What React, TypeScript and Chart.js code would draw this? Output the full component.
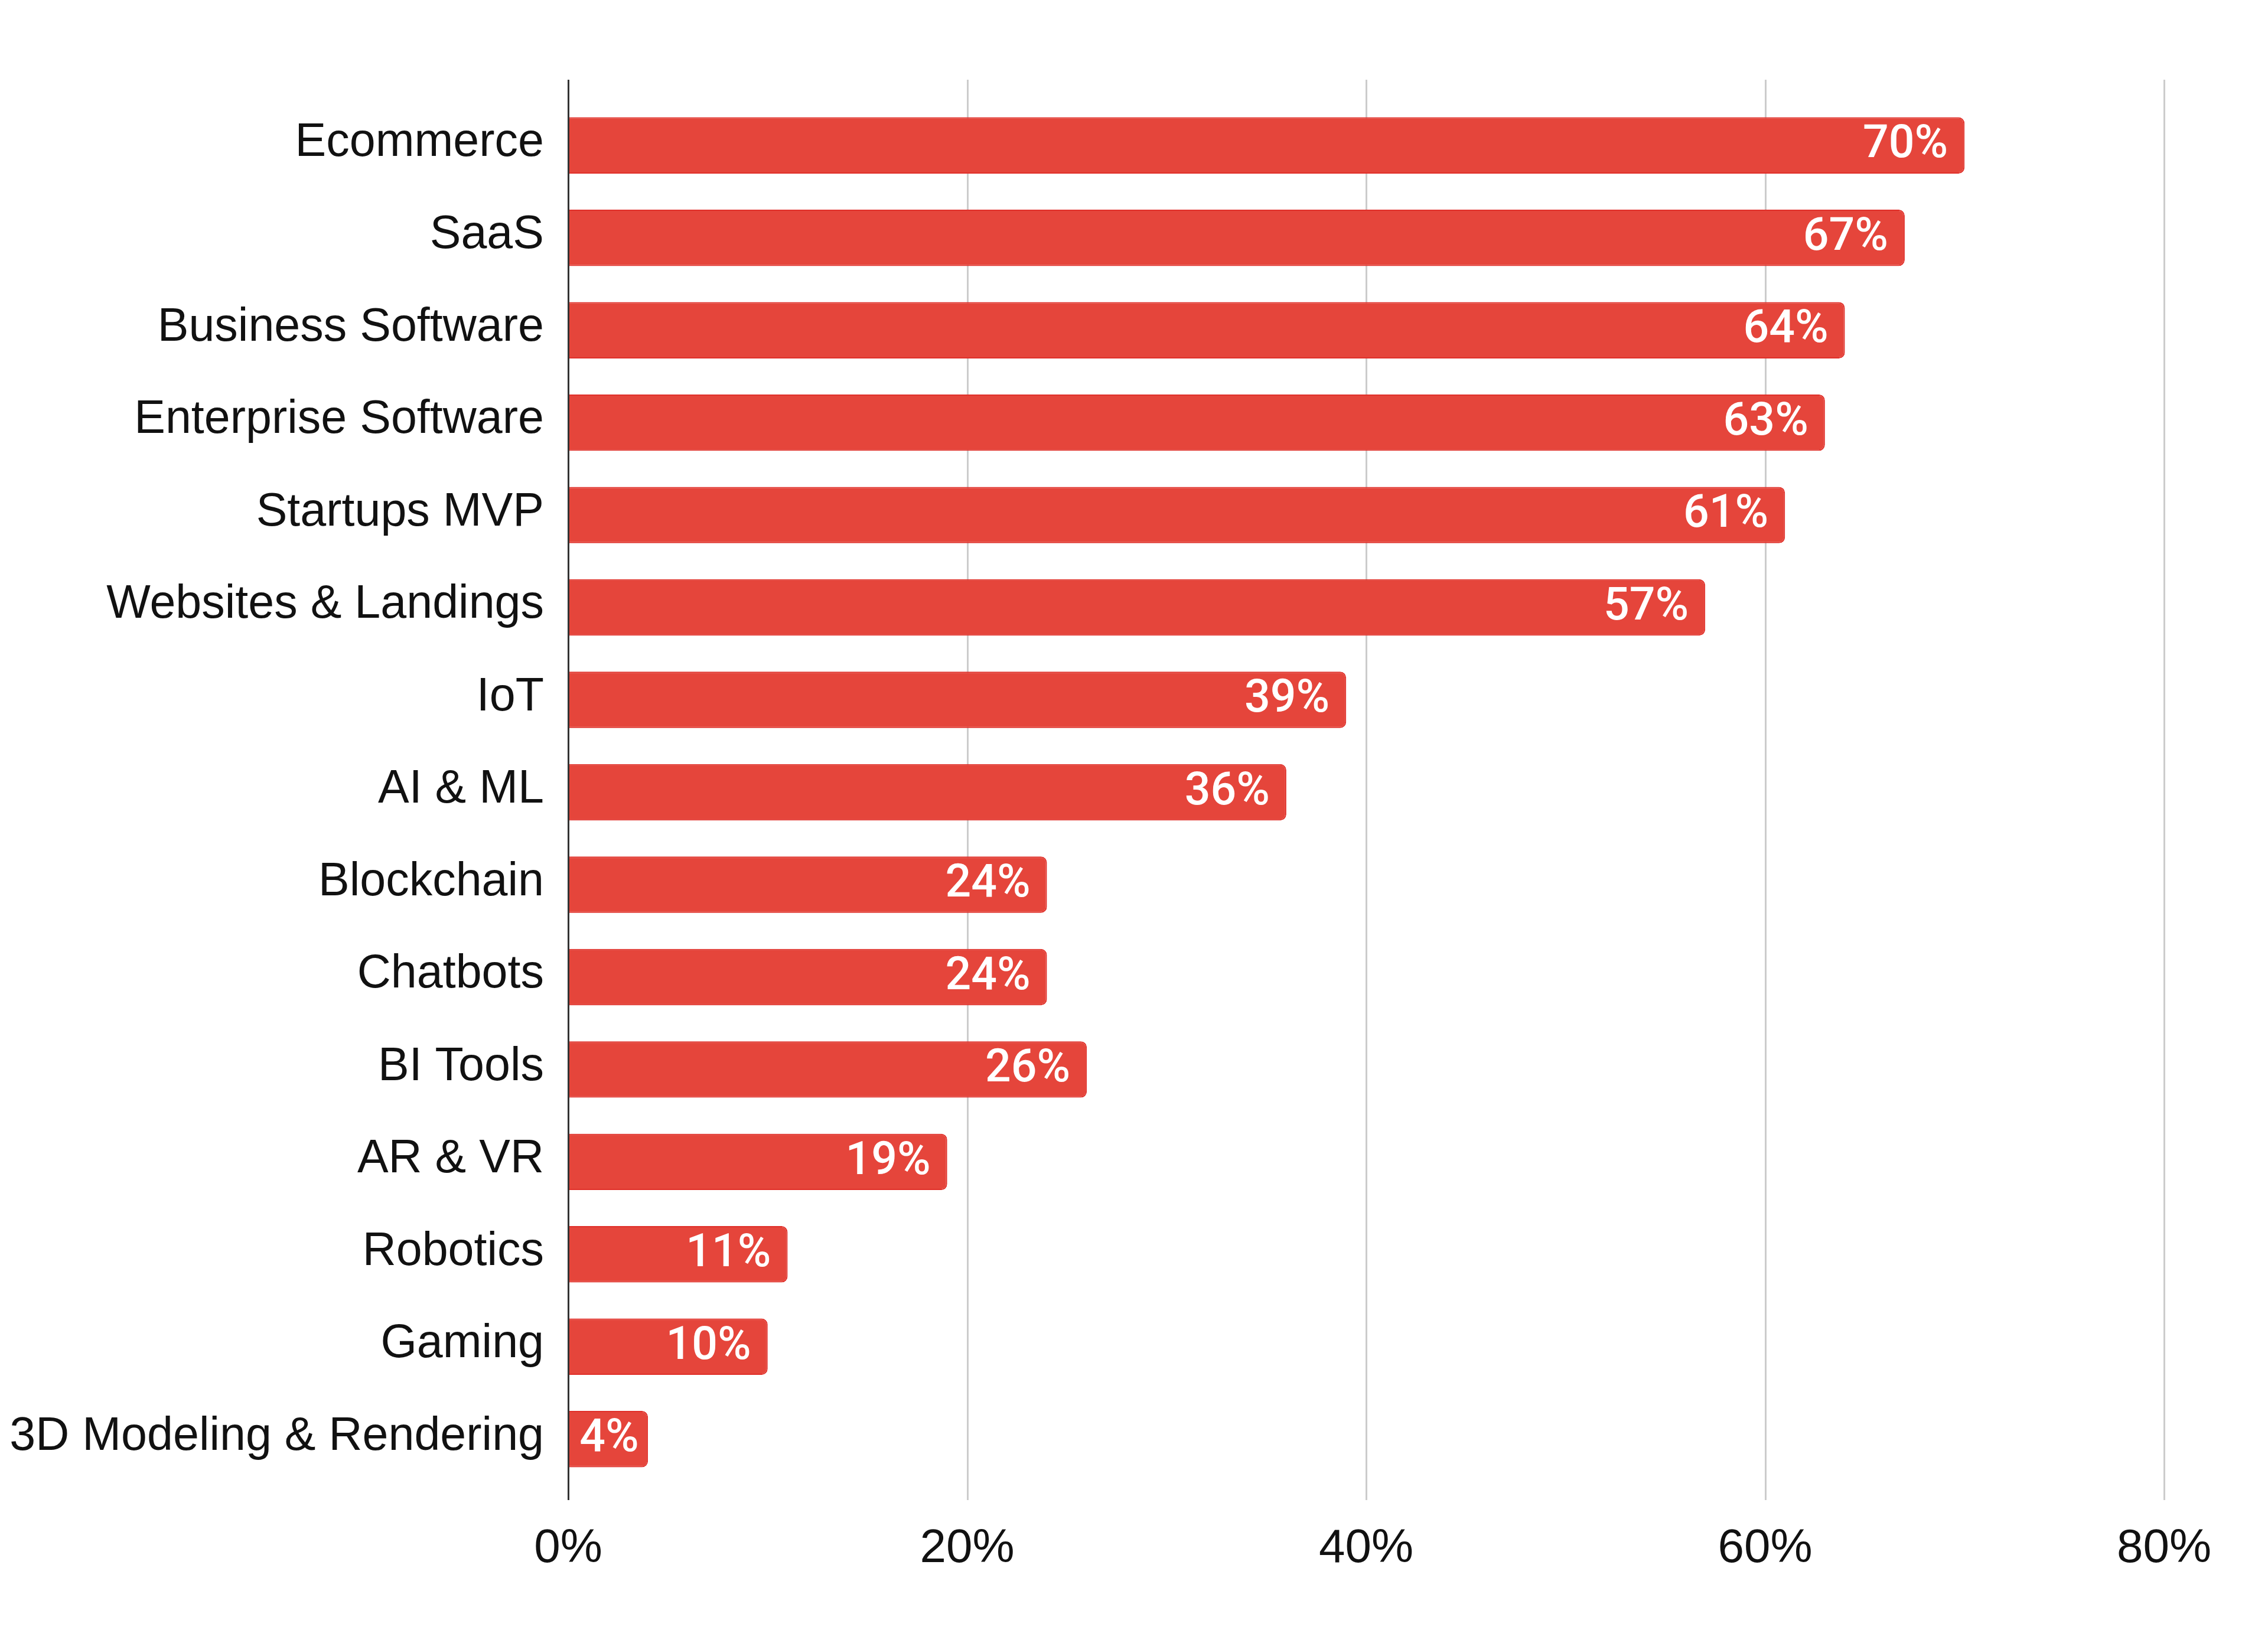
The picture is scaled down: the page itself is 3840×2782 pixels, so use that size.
import React, { useEffect, useRef } from "react";
import { Chart, registerables } from "chart.js";

Chart.register(...registerables);

const categories = [
  "Ecommerce",
  "SaaS",
  "Business Software",
  "Enterprise Software",
  "Startups MVP",
  "Websites & Landings",
  "IoT",
  "AI & ML",
  "Blockchain",
  "Chatbots",
  "BI Tools",
  "AR & VR",
  "Robotics",
  "Gaming",
  "3D Modeling & Rendering",
];

const values = [70, 67, 64, 63, 61, 57, 39, 36, 24, 24, 26, 19, 11, 10, 4];

const axisMin = 0;
const axisMax = 80;
const axisStep = 20;

const BAR_COLOR = "#E5453B";
const BAR_EDGE = "#E0302A";
const LABEL_FONT = "'Liberation Sans', Arial, sans-serif";

const gridPlugin = {
  id: "extendedGrid",
  beforeDatasetsDraw(chart: any) {
    const ctx = chart.ctx;
    const xs = chart.scales.x;
    const { top, bottom } = chart.chartArea;
    ctx.save();
    xs.ticks.forEach((t: any) => {
      if (t.value === 0) return;
      const px = Math.round(xs.getPixelForValue(t.value)) + 0.5;
      ctx.strokeStyle = "#cccccc";
      ctx.lineWidth = 3;
      ctx.beginPath();
      ctx.moveTo(px, top - 33);
      ctx.lineTo(px, bottom + 25);
      ctx.stroke();
    });
    ctx.restore();
  },
  afterDatasetsDraw(chart: any) {
    const ctx = chart.ctx;
    const xs = chart.scales.x;
    const { top, bottom } = chart.chartArea;
    ctx.save();
    const px = Math.round(xs.getPixelForValue(0)) + 0.5;
    ctx.strokeStyle = "#333333";
    ctx.lineWidth = 3;
    ctx.beginPath();
    ctx.moveTo(px, top - 33);
    ctx.lineTo(px, bottom + 25);
    ctx.stroke();

    const meta = chart.getDatasetMeta(0);
    ctx.fillStyle = "#ffffff";
    ctx.font = "500 77px Roboto, 'Open Sans', sans-serif";
    ctx.textBaseline = "middle";
    const pad = 28;
    meta.data.forEach((bar: any, i: number) => {
      const text = values[i] + "%";
      const w = ctx.measureText(text).width;
      const barW = bar.x - bar.base;
      if (w + 2 * pad > barW) {
        ctx.textAlign = "center";
        ctx.fillText(text, bar.base + barW / 2 + 2, bar.y + 1);
      } else {
        ctx.textAlign = "right";
        ctx.fillText(text, bar.x - pad, bar.y + 1);
      }
    });
    ctx.restore();
  },
};

export default function App() {
  const canvasRef = useRef<HTMLCanvasElement | null>(null);

  useEffect(() => {
    if (!canvasRef.current) return;
    const chart = new Chart(canvasRef.current, {
      type: "bar",
      data: {
        labels: categories,
        datasets: [
          {
            data: values,
            backgroundColor: BAR_COLOR,
            borderColor: BAR_EDGE,
            borderWidth: 2,
            borderRadius: 10,
            categoryPercentage: 1,
            barPercentage: 0.61,
          },
        ],
      },
      options: {
        indexAxis: "y",
        animation: false,
        responsive: true,
        maintainAspectRatio: false,
        layout: { padding: { top: 168, right: 176, left: 0, bottom: 0 } },
        plugins: {
          legend: { display: false },
          tooltip: { enabled: false },
        },
        scales: {
          x: {
            type: "linear",
            min: axisMin,
            max: axisMax,
            ticks: {
              stepSize: axisStep,
              callback: (v: any) => v + "%",
              font: { family: LABEL_FONT, size: 80 },
              color: "#111111",
              padding: 60,
              maxRotation: 0,
            },
            grid: { display: false, drawTicks: false },
            border: { display: false },
            afterFit: (s: any) => {
              s.height = 267;
            },
          },
          y: {
            ticks: {
              font: { family: LABEL_FONT, size: 79 },
              color: "#111111",
              padding: 41,
              autoSkip: false,
              labelOffset: -4,
            },
            grid: { display: false, drawTicks: false },
            border: { display: false },
            afterFit: (s: any) => {
              s.width = 962;
            },
          },
        },
      },
      plugins: [gridPlugin],
    });
    return () => chart.destroy();
  }, []);

  return (
    <div
      style={{
        position: "absolute",
        left: 0,
        top: 0,
        width: "3840px",
        height: "2782px",
        background: "#ffffff",
      }}
    >
      <canvas ref={canvasRef} />
    </div>
  );
}
